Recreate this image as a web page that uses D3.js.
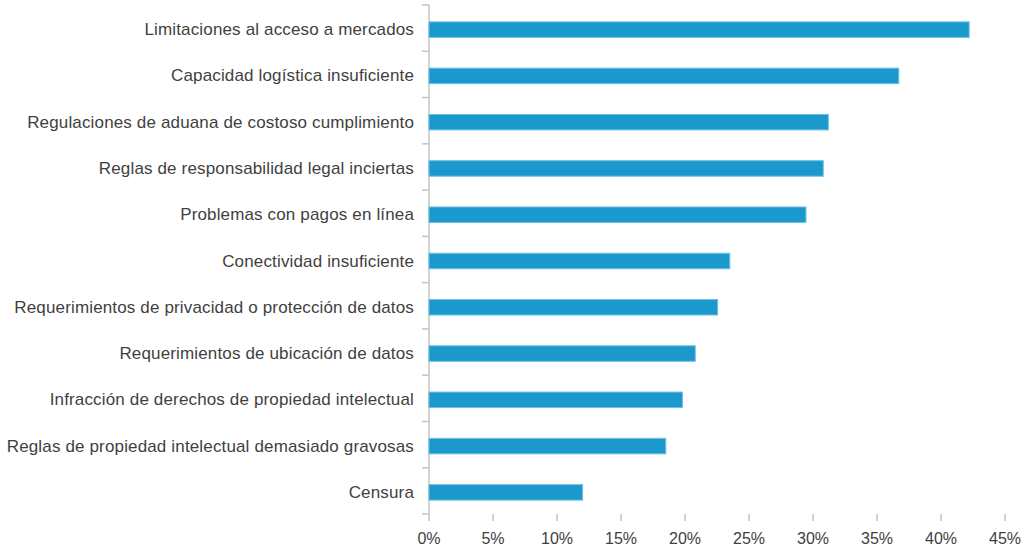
<!DOCTYPE html>
<html>
<head>
<meta charset="utf-8">
<script src="https://cdn.jsdelivr.net/npm/d3@7"></script>
<style>
  html, body { margin: 0; padding: 0; background: #fff; }
  svg { display: block; }
</style>
</head>
<body>
<svg id="chart" width="1028" height="547"></svg>
<script>
const categories = [
  "Limitaciones al acceso a mercados",
  "Capacidad logística insuficiente",
  "Regulaciones de aduana de costoso cumplimiento",
  "Reglas de responsabilidad legal inciertas",
  "Problemas con pagos en línea",
  "Conectividad insuficiente",
  "Requerimientos de privacidad o protección de datos",
  "Requerimientos de ubicación de datos",
  "Infracción de derechos de propiedad intelectual",
  "Reglas de propiedad intelectual demasiado gravosas",
  "Censura"
];
const values = [42.2, 36.7, 31.2, 30.8, 29.45, 23.5, 22.55, 20.8, 19.8, 18.5, 12.0];
const xTicks = [0, 5, 10, 15, 20, 25, 30, 35, 40, 45];

const svg = d3.select("#chart");
const margin = { top: 5, left: 429, right: 23, bottom: 33 };
const W = 1028, H = 547;

const x = d3.scaleLinear().domain([0, 45]).range([margin.left, W - margin.right]);
const y = d3.scaleBand().domain(categories).range([margin.top, 514]).paddingInner(0).paddingOuter(0);

const font = "'Liberation Sans', Arial, Helvetica, sans-serif";
const axisColor = "#c4c4c4";
const textColor = "#3f3f3f";

// Y axis line
svg.append("line")
  .attr("x1", x(0)).attr("x2", x(0))
  .attr("y1", y.range()[0]).attr("y2", y.range()[1])
  .attr("stroke", axisColor).attr("stroke-width", 1.5);

// Y ticks at band boundaries
const bounds = categories.map(c => y(c)).concat([y.range()[1]]);
svg.append("g").selectAll("line").data(bounds).join("line")
  .attr("x1", x(0) - 7).attr("x2", x(0))
  .attr("y1", d => d).attr("y2", d => d)
  .attr("stroke", axisColor).attr("stroke-width", 1.5);

// Bars
const barH = 15.5;
svg.append("g").selectAll("rect").data(values).join("rect")
  .attr("x", x(0))
  .attr("y", (d, i) => y(categories[i]) + y.bandwidth() / 2 - barH / 2 + 1.5)
  .attr("width", d => x(d) - x(0))
  .attr("height", barH)
  .attr("fill", "#1b99cc")
  .attr("stroke", "#6cc0e4")
  .attr("stroke-width", 1);

// Category labels
svg.append("g").selectAll("text").data(categories).join("text")
  .attr("x", x(0) - 15)
  .attr("y", c => y(c) + y.bandwidth() / 2 + 1.5)
  .attr("text-anchor", "end")
  .attr("dominant-baseline", "central")
  .attr("font-family", font)
  .attr("font-size", 17)
  .attr("letter-spacing", 0.15)
  .attr("fill", textColor)
  .text(c => c);

// X axis ticks (no baseline)
const xg = svg.append("g");
xg.selectAll("line").data(xTicks).join("line")
  .attr("x1", d => x(d)).attr("x2", d => x(d))
  .attr("y1", 514).attr("y2", 521)
  .attr("stroke", axisColor).attr("stroke-width", 1.5);
xg.selectAll("text").data(xTicks).join("text")
  .attr("x", d => x(d))
  .attr("y", 538)
  .attr("text-anchor", "middle")
  .attr("dominant-baseline", "central")
  .attr("font-family", font)
  .attr("font-size", 16)
  .attr("fill", textColor)
  .text(d => d + "%");
</script>
</body>
</html>
